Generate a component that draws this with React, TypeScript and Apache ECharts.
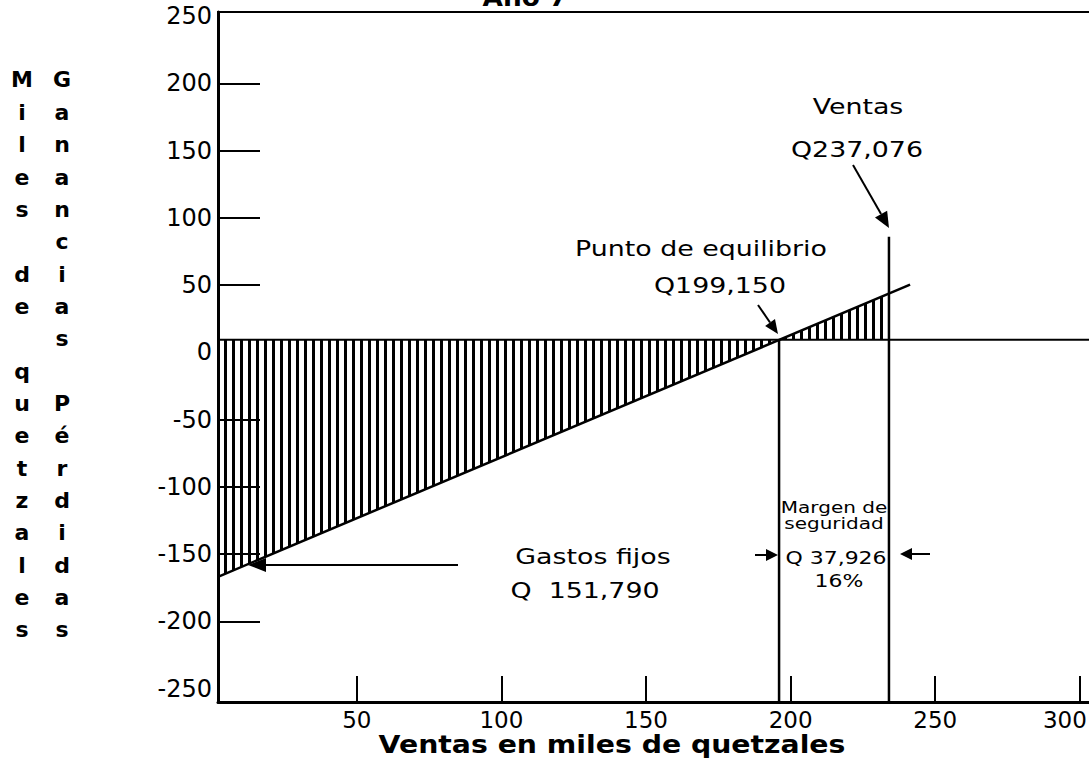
import React, { useEffect, useRef } from 'react';
import * as echarts from 'echarts';

// ---- data (thousands of quetzales) ----
const yLabelValues = [-250, -200, -150, -100, -50, 0, 50, 100, 150, 200, 250];
const yTickValues = [-200, -150, -100, -50, 50, 100, 150, 200];
const xTickValues = [50, 100, 150, 200, 250, 300];

const profitLine = [[2, -176], [241.3, 41]];
const hatchArea = [[2, -176], [196, 0], [234, 34.5]];
const zeroLine = [[2, 0], [305, 0]];
const breakEvenLine = [[196, 0], [196, -269]];
const salesLine = [[234, 76.5], [234, -269]];

const colLeft = ['M', 'i', 'l', 'e', 's', '', 'd', 'e', '', 'q', 'u', 'e', 't', 'z', 'a', 'l', 'e', 's'];
const colRight = ['G', 'a', 'n', 'a', 'n', 'c', 'i', 'a', 's', '', 'P', 'é', 'r', 'd', 'i', 'd', 'a', 's'];

const FONT = 'DejaVu Sans';
const SX = 1.22;

function txt(text: string, x: number, y: number, size: number, opts: any = {}) {
  return {
    type: 'text',
    x,
    y,
    scaleX: opts.scaleX ?? SX,
    style: {
      text,
      fill: '#000',
      fontFamily: FONT,
      fontSize: size,
      fontWeight: opts.bold ? 'bold' : 'normal',
      align: 'center',
      verticalAlign: opts.va ?? 'middle',
      lineHeight: opts.lineHeight,
    },
  };
}

function arrow(x1: number, y1: number, x2: number, y2: number, L: number, W: number) {
  const dx = x2 - x1;
  const dy = y2 - y1;
  const len = Math.sqrt(dx * dx + dy * dy);
  const ux = dx / len;
  const uy = dy / len;
  const bx = x2 - ux * L;
  const by = y2 - uy * L;
  const px = -uy;
  const py = ux;
  return {
    type: 'group',
    children: [
      { type: 'line', shape: { x1, y1, x2: bx, y2: by }, style: { stroke: '#000', lineWidth: 2 } },
      {
        type: 'polygon',
        shape: { points: [[x2, y2], [bx + px * W, by + py * W], [bx - px * W, by - py * W]] },
        style: { fill: '#000' },
      },
    ],
  };
}

export default function App() {
  const ref = useRef<HTMLDivElement>(null);
  useEffect(() => {
    document.body.style.margin = '0';
    const chart = echarts.init(ref.current!, undefined, { renderer: 'svg' });
    const black = { color: '#000' };
    chart.setOption({
      animation: false,
      backgroundColor: '#fff',
      grid: {
        left: 218,
        top: 12,
        right: -5.3,
        bottom: 59,
        show: true,
        borderColor: '#000',
        borderWidth: 2,
        containLabel: false,
        outerBoundsMode: 'none',
      },
      xAxis: {
        type: 'value',
        min: 2,
        max: 305,
        axisLine: { show: true, onZero: false, lineStyle: { color: '#000', width: 3 } },
        axisTick: { show: true, inside: true, length: 26, customValues: xTickValues, lineStyle: { color: '#000', width: 2 } },
        axisLabel: {
          customValues: xTickValues,
          color: '#000',
          fontFamily: FONT,
          fontSize: 23,
          margin: 6,
          formatter: (v: number) => (v === 300 ? '{r|300}' : String(v)),
          rich: { r: { fontFamily: FONT, fontSize: 23, color: '#000', padding: [0, 30, 0, 0] } },
        },
        splitLine: { show: false },
      },
      yAxis: [
        {
          type: 'value',
          min: -260,
          max: 253,
          position: 'left',
          axisLine: { show: true, onZero: false, lineStyle: { color: '#000', width: 3 } },
          axisTick: { show: true, inside: true, length: 42, customValues: yTickValues, lineStyle: { color: '#000', width: 2 } },
          axisLabel: {
            customValues: yLabelValues,
            color: '#000',
            fontFamily: FONT,
            fontSize: 24,
            margin: 6,
            formatter: (v: number) => (v % 50 === 0 ? String(v) : ''),
          },
          splitLine: { show: false },
        },
        { type: 'value', min: -269, max: 243.5, position: 'right', show: false },
      ],
      series: [
        {
          type: 'line',
          yAxisIndex: 1,
          data: hatchArea,
          showSymbol: false,
          silent: true,
          z: 1,
          lineStyle: { width: 0 },
          itemStyle: {
            color: '#000',
            decal: {
              symbol: 'rect',
              symbolSize: 1,
              dashArrayX: [2.6, 5],
              dashArrayY: [5, 0],
              color: '#000',
              backgroundColor: 'rgba(0,0,0,0)',
              rotation: 0,
            },
          },
          areaStyle: { color: 'rgba(255,255,255,0)', opacity: 1 },
        },
        { type: 'line', yAxisIndex: 1, data: zeroLine, showSymbol: false, z: 3, lineStyle: { ...black, width: 2 } },
        { type: 'line', yAxisIndex: 1, data: profitLine, showSymbol: false, z: 3, lineStyle: { ...black, width: 2.5 } },
        { type: 'line', yAxisIndex: 1, data: breakEvenLine, showSymbol: false, z: 3, lineStyle: { ...black, width: 2.5 } },
        { type: 'line', yAxisIndex: 1, data: salesLine, showSymbol: false, z: 3, lineStyle: { ...black, width: 2.5 } },
      ],
      graphic: [
        txt('Año 7', 525, -2, 24, { bold: true, scaleX: 1.1 }),
        txt(colLeft.join('\n'), 22, 63.8, 22, { bold: true, va: 'top', lineHeight: 32.35, scaleX: 1 }),
        txt(colRight.join('\n'), 62, 63.8, 22, { bold: true, va: 'top', lineHeight: 32.35, scaleX: 1 }),
        txt('Ventas', 858, 106, 22),
        txt('Q237,076', 857, 149, 22),
        arrow(853, 165, 889, 228, 16, 7),
        txt('Punto de equilibrio', 701, 248, 22),
        txt('Q199,150', 720, 285, 22),
        arrow(758, 305, 778, 334, 14, 6),
        txt('Margen de', 834, 507, 16, { scaleX: 1.25 }),
        txt('seguridad', 834, 523, 16, { scaleX: 1.25 }),
        txt('Q 37,926', 836, 558, 18),
        txt('16%', 839, 581, 18),
        arrow(755, 555, 778, 555, 12, 6),
        arrow(930, 554, 900, 554, 12, 6),
        txt('Gastos fijos', 593, 556, 22),
        txt('Q  151,790', 585, 590, 22),
        arrow(458, 565, 248, 565, 18, 7),
        txt('Ventas en miles de quetzales', 612, 745, 24, { bold: true, scaleX: 1.18 }),
      ],
    });
    return () => chart.dispose();
  }, []);
  return <div ref={ref} style={{ width: 1089, height: 761 }} />;
}
